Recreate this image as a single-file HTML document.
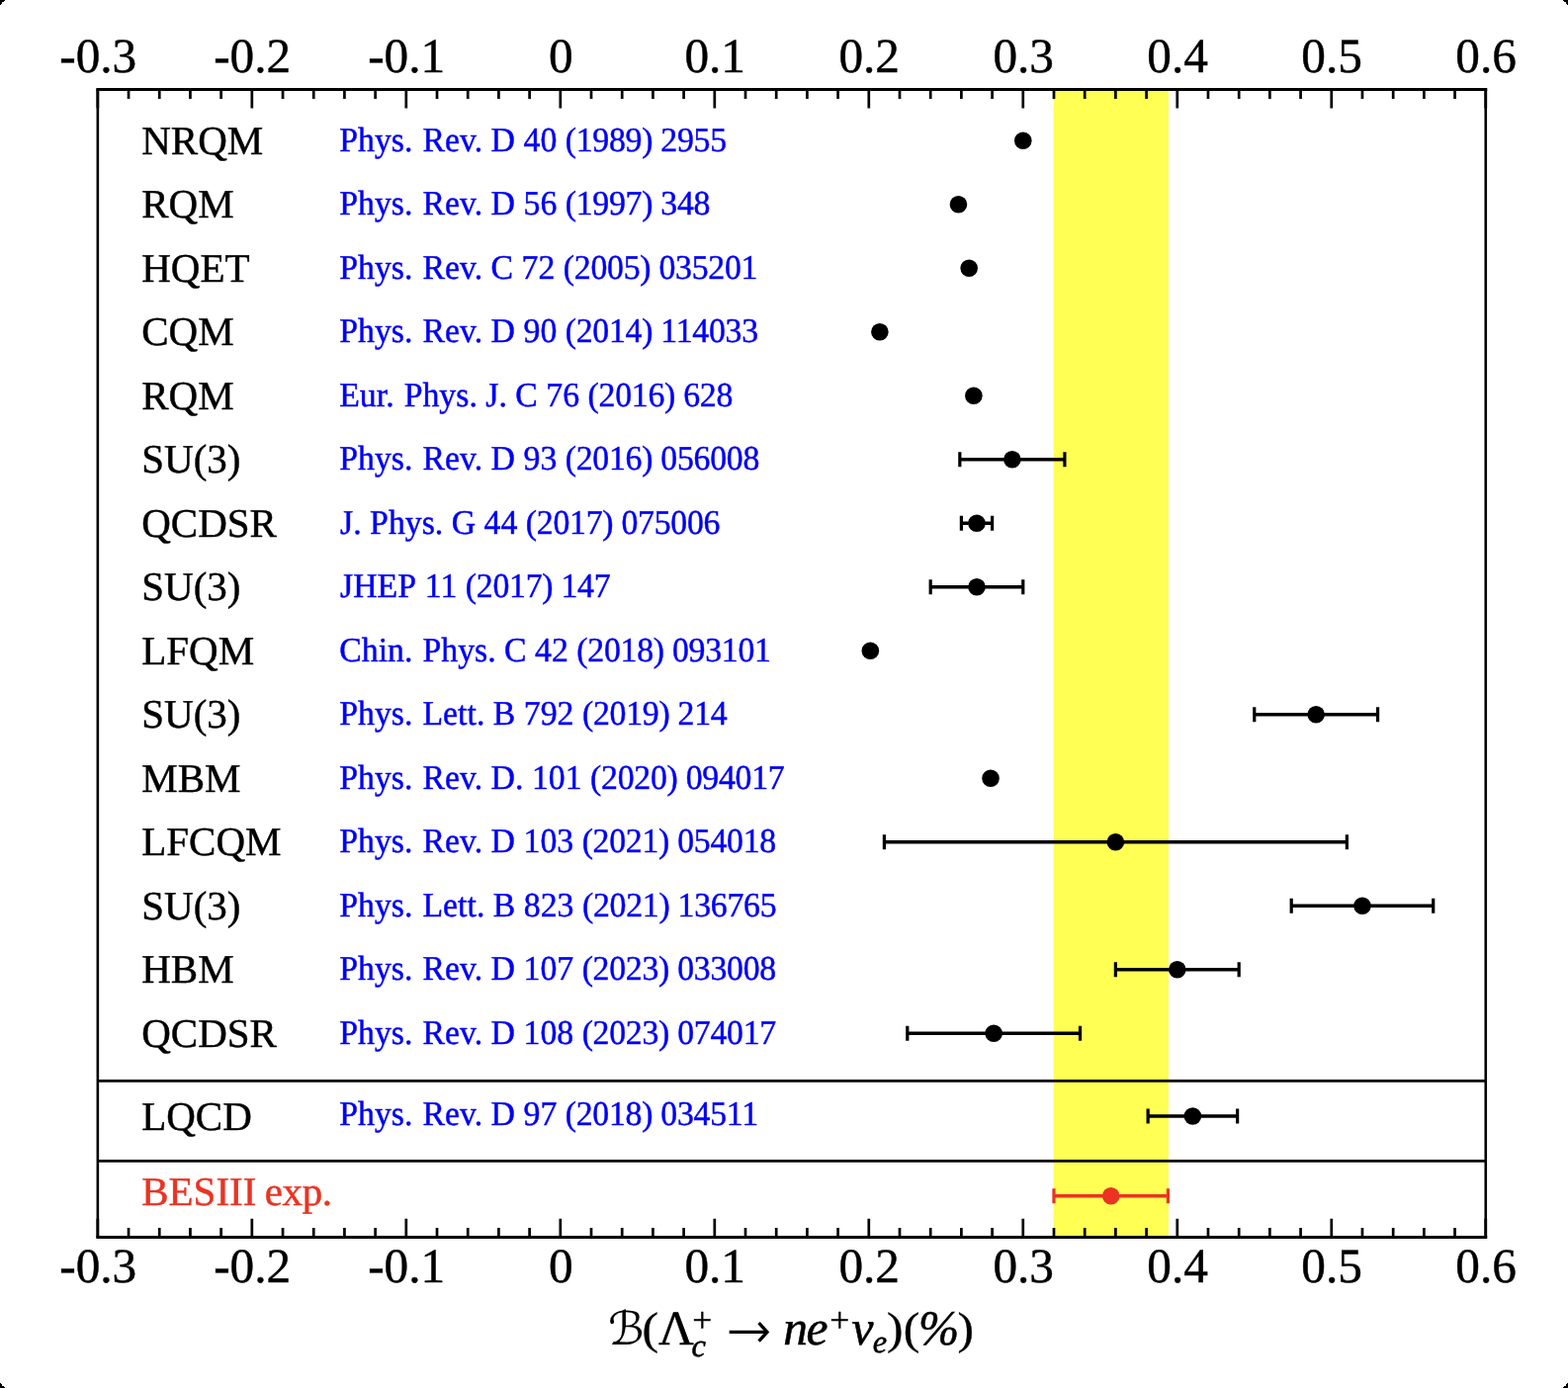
<!DOCTYPE html>
<html><head><meta charset="utf-8"><title>chart</title>
<style>
html,body{margin:0;padding:0;background:#fff;}
body{width:1586px;height:1404px;overflow:hidden;}
svg{display:block;will-change:transform;}
text{font-family:"Liberation Serif",serif;text-rendering:geometricPrecision;}
.i{font-style:italic;}
</style></head><body>
<svg width="1586" height="1404" viewBox="0 0 1586 1404">
<rect x="0" y="0" width="1586" height="1404" fill="#fff"/>
<g fill="#000" shape-rendering="crispEdges"><rect x="0" y="0" width="5" height="1"/><rect x="1581" y="0" width="5" height="1"/><rect x="0" y="1403" width="5" height="1"/><rect x="1581" y="1403" width="5" height="1"/><rect x="0" y="1" width="4" height="1"/><rect x="1582" y="1" width="4" height="1"/><rect x="0" y="1402" width="4" height="1"/><rect x="1582" y="1402" width="4" height="1"/><rect x="0" y="2" width="2" height="1"/><rect x="1584" y="2" width="2" height="1"/><rect x="0" y="1401" width="2" height="1"/><rect x="1584" y="1401" width="2" height="1"/><rect x="0" y="3" width="2" height="1"/><rect x="1584" y="3" width="2" height="1"/><rect x="0" y="1400" width="2" height="1"/><rect x="1584" y="1400" width="2" height="1"/><rect x="0" y="4" width="1" height="1"/><rect x="1585" y="4" width="1" height="1"/><rect x="0" y="1399" width="1" height="1"/><rect x="1585" y="1399" width="1" height="1"/></g>
<rect x="1065.80" y="90.60" width="116.10" height="1160.90" fill="#ffff54"/>
<g stroke="#000" fill="none" stroke-linecap="butt">
<line x1="98.85" y1="90.60" x2="98.85" y2="1251.50" stroke-width="2.60"/><line x1="1502.76" y1="90.60" x2="1502.76" y2="1251.50" stroke-width="2.60"/><line x1="98.85" y1="90.60" x2="1502.76" y2="90.60" stroke-width="3.00" stroke-linecap="square"/><line x1="98.85" y1="1251.50" x2="1502.76" y2="1251.50" stroke-width="3.00" stroke-linecap="square"/><line x1="98.85" y1="1093.40" x2="1502.76" y2="1093.40" stroke-width="2.80"/><line x1="98.85" y1="1174.40" x2="1502.76" y2="1174.40" stroke-width="2.80"/>
</g>
<path d="M98.85 90.60V109.40M98.85 1251.50V1232.70M130.05 90.60V100.00M130.05 1251.50V1242.10M161.25 90.60V100.00M161.25 1251.50V1242.10M192.44 90.60V100.00M192.44 1251.50V1242.10M223.64 90.60V100.00M223.64 1251.50V1242.10M254.84 90.60V109.40M254.84 1251.50V1232.70M286.04 90.60V100.00M286.04 1251.50V1242.10M317.24 90.60V100.00M317.24 1251.50V1242.10M348.43 90.60V100.00M348.43 1251.50V1242.10M379.63 90.60V100.00M379.63 1251.50V1242.10M410.83 90.60V109.40M410.83 1251.50V1232.70M442.03 90.60V100.00M442.03 1251.50V1242.10M473.23 90.60V100.00M473.23 1251.50V1242.10M504.42 90.60V100.00M504.42 1251.50V1242.10M535.62 90.60V100.00M535.62 1251.50V1242.10M566.82 90.60V109.40M566.82 1251.50V1232.70M598.02 90.60V100.00M598.02 1251.50V1242.10M629.22 90.60V100.00M629.22 1251.50V1242.10M660.41 90.60V100.00M660.41 1251.50V1242.10M691.61 90.60V100.00M691.61 1251.50V1242.10M722.81 90.60V109.40M722.81 1251.50V1232.70M754.01 90.60V100.00M754.01 1251.50V1242.10M785.21 90.60V100.00M785.21 1251.50V1242.10M816.40 90.60V100.00M816.40 1251.50V1242.10M847.60 90.60V100.00M847.60 1251.50V1242.10M878.80 90.60V109.40M878.80 1251.50V1232.70M910.00 90.60V100.00M910.00 1251.50V1242.10M941.20 90.60V100.00M941.20 1251.50V1242.10M972.39 90.60V100.00M972.39 1251.50V1242.10M1003.59 90.60V100.00M1003.59 1251.50V1242.10M1034.79 90.60V109.40M1034.79 1251.50V1232.70M1065.99 90.60V100.00M1065.99 1251.50V1242.10M1097.19 90.60V100.00M1097.19 1251.50V1242.10M1128.38 90.60V100.00M1128.38 1251.50V1242.10M1159.58 90.60V100.00M1159.58 1251.50V1242.10M1190.78 90.60V109.40M1190.78 1251.50V1232.70M1221.98 90.60V100.00M1221.98 1251.50V1242.10M1253.18 90.60V100.00M1253.18 1251.50V1242.10M1284.37 90.60V100.00M1284.37 1251.50V1242.10M1315.57 90.60V100.00M1315.57 1251.50V1242.10M1346.77 90.60V109.40M1346.77 1251.50V1232.70M1377.97 90.60V100.00M1377.97 1251.50V1242.10M1409.17 90.60V100.00M1409.17 1251.50V1242.10M1440.36 90.60V100.00M1440.36 1251.50V1242.10M1471.56 90.60V100.00M1471.56 1251.50V1242.10M1502.76 90.60V109.40M1502.76 1251.50V1232.70" stroke="#000" stroke-width="2.70" fill="none" stroke-linecap="butt"/>
<g>
<text x="99.25" y="73.40" font-size="49.30" fill="#000" text-anchor="middle" stroke="#000" stroke-width="0.45">-0.3</text><text x="99.25" y="1297.20" font-size="49.30" fill="#000" text-anchor="middle" stroke="#000" stroke-width="0.45">-0.3</text>
<text x="255.24" y="73.40" font-size="49.30" fill="#000" text-anchor="middle" stroke="#000" stroke-width="0.45">-0.2</text><text x="255.24" y="1297.20" font-size="49.30" fill="#000" text-anchor="middle" stroke="#000" stroke-width="0.45">-0.2</text>
<text x="411.23" y="73.40" font-size="49.30" fill="#000" text-anchor="middle" stroke="#000" stroke-width="0.45">-0.1</text><text x="411.23" y="1297.20" font-size="49.30" fill="#000" text-anchor="middle" stroke="#000" stroke-width="0.45">-0.1</text>
<text x="567.22" y="73.40" font-size="49.30" fill="#000" text-anchor="middle" stroke="#000" stroke-width="0.45">0</text><text x="567.22" y="1297.20" font-size="49.30" fill="#000" text-anchor="middle" stroke="#000" stroke-width="0.45">0</text>
<text x="723.21" y="73.40" font-size="49.30" fill="#000" text-anchor="middle" stroke="#000" stroke-width="0.45">0.1</text><text x="723.21" y="1297.20" font-size="49.30" fill="#000" text-anchor="middle" stroke="#000" stroke-width="0.45">0.1</text>
<text x="879.20" y="73.40" font-size="49.30" fill="#000" text-anchor="middle" stroke="#000" stroke-width="0.45">0.2</text><text x="879.20" y="1297.20" font-size="49.30" fill="#000" text-anchor="middle" stroke="#000" stroke-width="0.45">0.2</text>
<text x="1035.19" y="73.40" font-size="49.30" fill="#000" text-anchor="middle" stroke="#000" stroke-width="0.45">0.3</text><text x="1035.19" y="1297.20" font-size="49.30" fill="#000" text-anchor="middle" stroke="#000" stroke-width="0.45">0.3</text>
<text x="1191.18" y="73.40" font-size="49.30" fill="#000" text-anchor="middle" stroke="#000" stroke-width="0.45">0.4</text><text x="1191.18" y="1297.20" font-size="49.30" fill="#000" text-anchor="middle" stroke="#000" stroke-width="0.45">0.4</text>
<text x="1347.17" y="73.40" font-size="49.30" fill="#000" text-anchor="middle" stroke="#000" stroke-width="0.45">0.5</text><text x="1347.17" y="1297.20" font-size="49.30" fill="#000" text-anchor="middle" stroke="#000" stroke-width="0.45">0.5</text>
<text x="1503.16" y="73.40" font-size="49.30" fill="#000" text-anchor="middle" stroke="#000" stroke-width="0.45">0.6</text><text x="1503.16" y="1297.20" font-size="49.30" fill="#000" text-anchor="middle" stroke="#000" stroke-width="0.45">0.6</text>
</g>
<text x="143.22" y="155.75" font-size="41.00" fill="#000" stroke="#000" stroke-width="0.45">NRQM</text><text transform="translate(343.23 152.95) scale(1 1.0300)" font-size="33.80" fill="#0000f5" stroke="#0000f5" stroke-width="0.45">Phys.<tspan dx="1.6"> Rev. D 40 </tspan><tspan letter-spacing="-0.28">(1989) 2955</tspan></text><circle cx="1034.79" cy="142.25" r="8.8" fill="#000"/>
<text x="143.22" y="220.25" font-size="41.00" fill="#000" stroke="#000" stroke-width="0.45">RQM</text><text transform="translate(343.23 217.45) scale(1 1.0300)" font-size="33.80" fill="#0000f5" stroke="#0000f5" stroke-width="0.45">Phys.<tspan dx="1.6"> Rev. D 56 </tspan><tspan letter-spacing="-0.28">(1997) 348</tspan></text><circle cx="969.43" cy="206.75" r="8.8" fill="#000"/>
<text x="143.22" y="284.75" font-size="41.00" fill="#000" stroke="#000" stroke-width="0.45">HQET</text><text transform="translate(343.23 281.95) scale(1 1.0300)" font-size="33.80" fill="#0000f5" stroke="#0000f5" stroke-width="0.45">Phys.<tspan dx="1.6"> Rev. C 72 </tspan><tspan letter-spacing="-0.28">(2005) 035201</tspan></text><circle cx="980.19" cy="271.25" r="8.8" fill="#000"/>
<text x="143.22" y="349.25" font-size="41.00" fill="#000" stroke="#000" stroke-width="0.45">CQM</text><text transform="translate(343.23 346.45) scale(1 1.0300)" font-size="33.80" fill="#0000f5" stroke="#0000f5" stroke-width="0.45">Phys.<tspan dx="1.6"> Rev. D 90 </tspan><tspan letter-spacing="-0.28">(2014) 114033</tspan></text><circle cx="889.88" cy="335.75" r="8.8" fill="#000"/>
<text x="143.22" y="413.75" font-size="41.00" fill="#000" stroke="#000" stroke-width="0.45">RQM</text><text transform="translate(343.23 410.95) scale(1 1.0300)" font-size="33.80" fill="#0000f5" stroke="#0000f5" stroke-width="0.45">Eur.<tspan dx="1.6"> Phys. J. C 76 </tspan><tspan letter-spacing="-0.28">(2016) 628</tspan></text><circle cx="984.87" cy="400.25" r="8.8" fill="#000"/>
<text x="143.22" y="478.25" font-size="41.00" fill="#000" stroke="#000" stroke-width="0.45">SU(3)</text><text transform="translate(343.23 475.45) scale(1 1.0300)" font-size="33.80" fill="#0000f5" stroke="#0000f5" stroke-width="0.45">Phys.<tspan dx="1.6"> Rev. D 93 </tspan><tspan letter-spacing="-0.28">(2016) 056008</tspan></text><path d="M970.83 464.75H1076.91" stroke="#000" stroke-width="3.5" fill="none"/><path d="M970.83 457.25V472.25M1076.91 457.25V472.25" stroke="#000" stroke-width="3.2" fill="none"/><circle cx="1023.87" cy="464.75" r="8.8" fill="#000"/>
<text x="143.22" y="542.75" font-size="41.00" fill="#000" stroke="#000" stroke-width="0.45">QCDSR</text><text transform="translate(344.03 539.95) scale(1 1.0300)" font-size="33.80" fill="#0000f5" stroke="#0000f5" stroke-width="0.45">J.<tspan dx="0.0"> Phys. G 44 </tspan><tspan letter-spacing="-0.28">(2017) 075006</tspan></text><path d="M972.39 529.25H1003.59" stroke="#000" stroke-width="3.5" fill="none"/><path d="M972.39 521.75V536.75M1003.59 521.75V536.75" stroke="#000" stroke-width="3.2" fill="none"/><circle cx="987.99" cy="529.25" r="8.8" fill="#000"/>
<text x="143.22" y="607.25" font-size="41.00" fill="#000" stroke="#000" stroke-width="0.45">SU(3)</text><text transform="translate(344.03 604.45) scale(1 1.0300)" font-size="33.80" fill="#0000f5" stroke="#0000f5" stroke-width="0.45">JHEP<tspan dx="1.6"> 11 </tspan><tspan letter-spacing="-0.28">(2017) 147</tspan></text><path d="M941.20 593.75H1034.79" stroke="#000" stroke-width="3.5" fill="none"/><path d="M941.20 586.25V601.25M1034.79 586.25V601.25" stroke="#000" stroke-width="3.2" fill="none"/><circle cx="987.99" cy="593.75" r="8.8" fill="#000"/>
<text x="143.22" y="671.75" font-size="41.00" fill="#000" stroke="#000" stroke-width="0.45">LFQM</text><text transform="translate(343.23 668.95) scale(1 1.0300)" font-size="33.80" fill="#0000f5" stroke="#0000f5" stroke-width="0.45">Chin.<tspan dx="1.6"> Phys. C 42 </tspan><tspan letter-spacing="-0.28">(2018) 093101</tspan></text><circle cx="880.36" cy="658.25" r="8.8" fill="#000"/>
<text x="143.22" y="736.25" font-size="41.00" fill="#000" stroke="#000" stroke-width="0.45">SU(3)</text><text transform="translate(343.23 733.45) scale(1 1.0300)" font-size="33.80" fill="#0000f5" stroke="#0000f5" stroke-width="0.45">Phys.<tspan dx="1.6"> Lett. B 792 </tspan><tspan letter-spacing="-0.28">(2019) 214</tspan></text><path d="M1268.78 722.75H1393.57" stroke="#000" stroke-width="3.5" fill="none"/><path d="M1268.78 715.25V730.25M1393.57 715.25V730.25" stroke="#000" stroke-width="3.2" fill="none"/><circle cx="1331.17" cy="722.75" r="8.8" fill="#000"/>
<text x="143.22" y="800.75" font-size="41.00" fill="#000" stroke="#000" stroke-width="0.45">MBM</text><text transform="translate(343.23 797.95) scale(1 1.0300)" font-size="33.80" fill="#0000f5" stroke="#0000f5" stroke-width="0.45">Phys.<tspan dx="1.6"> Rev. D. 101 </tspan><tspan letter-spacing="-0.28">(2020) 094017</tspan></text><circle cx="1002.03" cy="787.25" r="8.8" fill="#000"/>
<text x="143.22" y="865.25" font-size="41.00" fill="#000" stroke="#000" stroke-width="0.45">LFCQM</text><text transform="translate(343.23 862.45) scale(1 1.0300)" font-size="33.80" fill="#0000f5" stroke="#0000f5" stroke-width="0.45">Phys.<tspan dx="1.6"> Rev. D 103 </tspan><tspan letter-spacing="-0.28">(2021) 054018</tspan></text><path d="M894.40 851.75H1362.37" stroke="#000" stroke-width="3.5" fill="none"/><path d="M894.40 844.25V859.25M1362.37 844.25V859.25" stroke="#000" stroke-width="3.2" fill="none"/><circle cx="1128.38" cy="851.75" r="8.8" fill="#000"/>
<text x="143.22" y="929.75" font-size="41.00" fill="#000" stroke="#000" stroke-width="0.45">SU(3)</text><text transform="translate(343.23 926.95) scale(1 1.0300)" font-size="33.80" fill="#0000f5" stroke="#0000f5" stroke-width="0.45">Phys.<tspan dx="1.6"> Lett. B 823 </tspan><tspan letter-spacing="-0.28">(2021) 136765</tspan></text><path d="M1306.21 916.25H1449.72" stroke="#000" stroke-width="3.5" fill="none"/><path d="M1306.21 908.75V923.75M1449.72 908.75V923.75" stroke="#000" stroke-width="3.2" fill="none"/><circle cx="1377.97" cy="916.25" r="8.8" fill="#000"/>
<text x="143.22" y="994.25" font-size="41.00" fill="#000" stroke="#000" stroke-width="0.45">HBM</text><text transform="translate(343.23 991.45) scale(1 1.0300)" font-size="33.80" fill="#0000f5" stroke="#0000f5" stroke-width="0.45">Phys.<tspan dx="1.6"> Rev. D 107 </tspan><tspan letter-spacing="-0.28">(2023) 033008</tspan></text><path d="M1128.38 980.75H1253.18" stroke="#000" stroke-width="3.5" fill="none"/><path d="M1128.38 973.25V988.25M1253.18 973.25V988.25" stroke="#000" stroke-width="3.2" fill="none"/><circle cx="1190.78" cy="980.75" r="8.8" fill="#000"/>
<text x="143.22" y="1058.75" font-size="41.00" fill="#000" stroke="#000" stroke-width="0.45">QCDSR</text><text transform="translate(343.23 1055.95) scale(1 1.0300)" font-size="33.80" fill="#0000f5" stroke="#0000f5" stroke-width="0.45">Phys.<tspan dx="1.6"> Rev. D 108 </tspan><tspan letter-spacing="-0.28">(2023) 074017</tspan></text><path d="M917.80 1045.25H1092.51" stroke="#000" stroke-width="3.5" fill="none"/><path d="M917.80 1037.75V1052.75M1092.51 1037.75V1052.75" stroke="#000" stroke-width="3.2" fill="none"/><circle cx="1005.15" cy="1045.25" r="8.8" fill="#000"/>
<text x="143.22" y="1142.50" font-size="41.00" fill="#000" stroke="#000" stroke-width="0.45">LQCD</text><text transform="translate(343.23 1138.40) scale(1 1.0300)" font-size="33.80" fill="#0000f5" stroke="#0000f5" stroke-width="0.45">Phys.<tspan dx="1.6"> Rev. D 97 </tspan><tspan letter-spacing="-0.28">(2018) 034511</tspan></text><path d="M1161.14 1129.00H1251.62" stroke="#000" stroke-width="3.5" fill="none"/><path d="M1161.14 1121.50V1136.50M1251.62 1121.50V1136.50" stroke="#000" stroke-width="3.2" fill="none"/><circle cx="1206.38" cy="1129.00" r="8.8" fill="#000"/>
<text x="143.22" y="1219.00" font-size="41.00" fill="#ea3323" stroke="#ea3323" stroke-width="0.45">BESIII<tspan dx="-1.6" letter-spacing="-0.35"> exp.</tspan></text><path d="M1065.99 1209.70H1181.42" stroke="#ea3323" stroke-width="3.5" fill="none"/><path d="M1065.99 1202.20V1217.20M1181.42 1202.20V1217.20" stroke="#ea3323" stroke-width="3.2" fill="none"/><circle cx="1123.70" cy="1209.70" r="8.8" fill="#ea3323"/>
<g id="title" font-size="49.50" fill="#000">
<text x="615.00" y="1359.90" font-size="46.50" fill="#000" style="font-family:'Liberation Serif','DejaVu Serif','DejaVu Sans',serif;">ℬ</text>
<text transform="translate(649.52 1358.90) scale(1 0.92)" font-size="49.50" stroke="#000" stroke-width="0.4">(</text><text x="666.12" y="1359.90" font-size="49.50" stroke="#000" stroke-width="0.40">Λ</text><text x="700.13" y="1346.60" font-size="35.50" stroke="#000" stroke-width="0.40">+</text><text x="699.50" y="1372.10" font-size="32.50" stroke="#000" stroke-width="0.55" class="i">c</text><text x="792.14" y="1359.90" font-size="49.50" stroke="#000" stroke-width="0.55" class="i">n</text><text x="815.48" y="1359.90" font-size="49.50" stroke="#000" stroke-width="0.55" class="i">e</text><text x="839.23" y="1346.60" font-size="35.50" stroke="#000" stroke-width="0.40">+</text><text x="861.42" y="1359.90" font-size="49.50" stroke="#000" stroke-width="0.55" class="i">ν</text><text x="882.80" y="1367.80" font-size="32.50" stroke="#000" stroke-width="0.55" class="i">e</text><text transform="translate(897.00 1358.90) scale(1 0.92)" font-size="49.50" stroke="#000" stroke-width="0.4">)</text><text transform="translate(913.72 1358.90) scale(1 0.92)" font-size="49.50" stroke="#000" stroke-width="0.4">(</text><text x="929.07" y="1359.90" font-size="49.50" stroke="#000" stroke-width="0.55" class="i">%</text><text transform="translate(968.40 1358.90) scale(1 0.92)" font-size="49.50" stroke="#000" stroke-width="0.4">)</text>
<path d="M737.65 1347.4H776.2" stroke="#000" stroke-width="3.1" fill="none"/><path d="M767.6 1338.2L776.0 1347.4L767.6 1356.6" stroke="#000" stroke-width="3.3" fill="none" stroke-linejoin="miter" stroke-miterlimit="10"/>
</g>
</svg>
</body></html>
